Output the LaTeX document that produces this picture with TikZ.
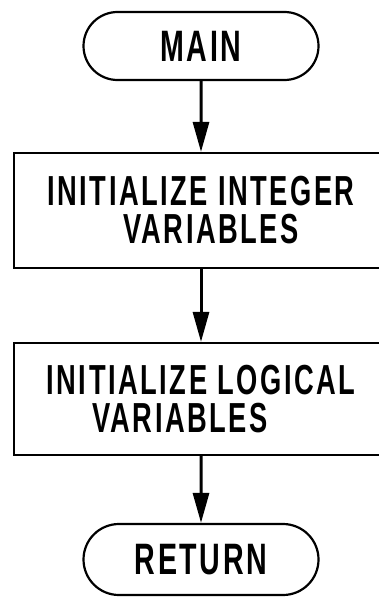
\documentclass[tikz,border=0pt]{standalone}
\usepackage{fontspec}
\newfontfamily\flowfont{Liberation Sans}[FakeStretch=0.65,LetterSpace=6,BoldFont={Liberation Sans Bold}]
\usetikzlibrary{shapes.misc,arrows.meta}
\begin{document}
\begin{tikzpicture}[x=1pt,y=-1pt,
  terminal/.style={draw, line width=2.2pt, rounded rectangle, minimum width=235pt,
    minimum height=68pt, inner sep=0pt, font=\flowfont\bfseries\fontsize{44}{38}\selectfont},
  process/.style={draw, line width=2.2pt, rectangle, minimum width=374pt, inner sep=0pt,
    align=center, font=\flowfont\bfseries\fontsize{42}{38}\selectfont},
  flow/.style={line width=3pt, -{Triangle[width=16pt,length=30pt]}}]
\path[use as bounding box, clip] (0,0) rectangle (379,597);
\fill[white] (0,0) rectangle (379,597);
\node[terminal] (main) at (201,46) {MAIN};
\node[process, minimum height=115pt] (init1) at (201,210.5) {INITIALIZE INTEGER\\\hspace*{20pt}VARIABLES};
\node[process, minimum height=112pt] (init2) at (201,399) {INITIALIZE LOGICAL\\VARIABLES\hspace*{42pt}};
\node[terminal, minimum height=71pt] (ret) at (201,559.5) {RETURN};
\draw[flow] (main) -- (init1);
\draw[flow] (init1) -- (init2);
\draw[flow] (init2) -- (ret);
\end{tikzpicture}
\end{document}
